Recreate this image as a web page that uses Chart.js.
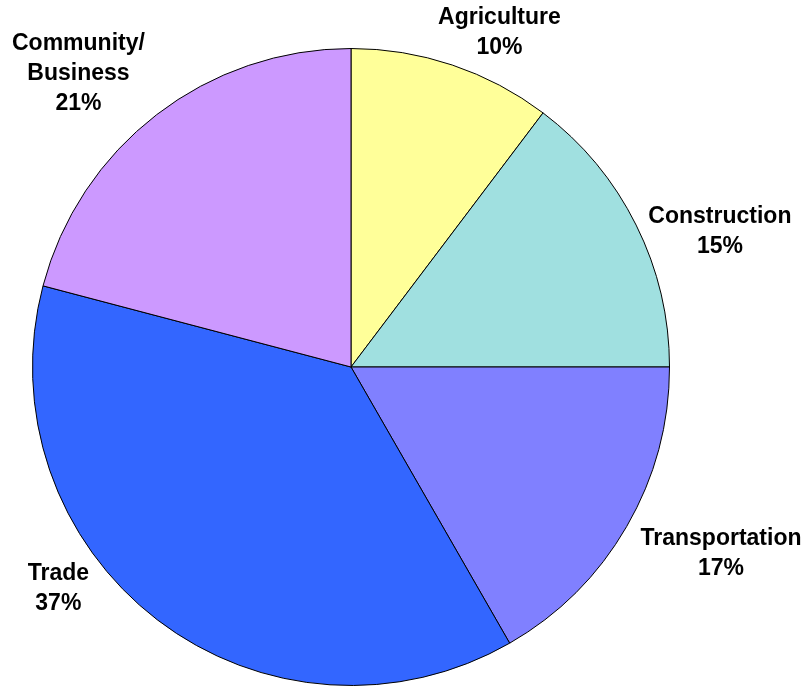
<!DOCTYPE html>
<html>
<head>
<meta charset="utf-8">
<script src="https://cdn.jsdelivr.net/npm/chart.js@4.4.1/dist/chart.umd.min.js"></script>
<style>
  html, body { margin: 0; padding: 0; background: #ffffff; }
  #wrap { width: 806px; height: 686px; position: relative; }
</style>
</head>
<body>
<div id="wrap"><canvas id="pie"></canvas></div>
<script>
// ─── data ────────────────────────────────────────────────────────────────────
const SECTORS = ['Agriculture', 'Construction', 'Transportation', 'Trade', 'Community/Business'];
const LABEL_LINES = [['Agriculture'], ['Construction'], ['Transportation'], ['Trade'], ['Community/', 'Business']];
const SHARES = [10.3, 14.7, 16.7, 37.4, 20.9];
const COLORS = ['#ffff99', '#a0e0e0', '#8080ff', '#3366ff', '#cc99ff'];
// label nudge from the default outside anchor, px
const LABEL_NUDGE = [[32, 13], [41, 28], [53, 3], [-70, -69], [-49, -3]];

const FONT = 'bold 23px "Liberation Sans", Arial, sans-serif';
const LINE_H = 30;

/** Draw the outside labels (name + percent) for each slice. */
const outsideLabels = {
  id: 'outsideLabels',
  afterDatasetsDraw(chart) {
    const ctx = chart.ctx;
    const meta = chart.getDatasetMeta(0);
    const total = SHARES.reduce((a, b) => a + b, 0);
    ctx.save();
    ctx.font = FONT;
    ctx.fillStyle = '#000000';
    ctx.textAlign = 'center';
    ctx.textBaseline = 'middle';
    meta.data.forEach((arc, i) => {
      const p = arc.getProps(['x', 'y', 'startAngle', 'endAngle', 'outerRadius'], true);
      const mid = (p.startAngle + p.endAngle) / 2;
      const r = p.outerRadius * 1.15;
      const cx = p.x + Math.cos(mid) * r + LABEL_NUDGE[i][0];
      const cy = p.y + Math.sin(mid) * r + LABEL_NUDGE[i][1];
      const pct = Math.round(SHARES[i] / total * 100) + '%';
      const lines = LABEL_LINES[i].concat([pct]);
      const top = cy - (lines.length - 1) * LINE_H / 2;
      lines.forEach((t, k) => ctx.fillText(t, cx, top + k * LINE_H));
    });
    ctx.restore();
  },
};

new Chart(document.getElementById('pie'), {
  type: 'pie',
  data: {
    labels: SECTORS,
    datasets: [{
      data: SHARES,
      backgroundColor: COLORS,
      borderColor: '#000000',
      borderWidth: 1,
    }],
  },
  options: {
    responsive: true,
    maintainAspectRatio: false,
    animation: false,
    layout: { padding: { left: 32, right: 136, top: 48, bottom: 0 } },
    plugins: {
      legend: { display: false },
      tooltip: { enabled: false },
    },
  },
  plugins: [outsideLabels],
});
</script>
</body>
</html>
